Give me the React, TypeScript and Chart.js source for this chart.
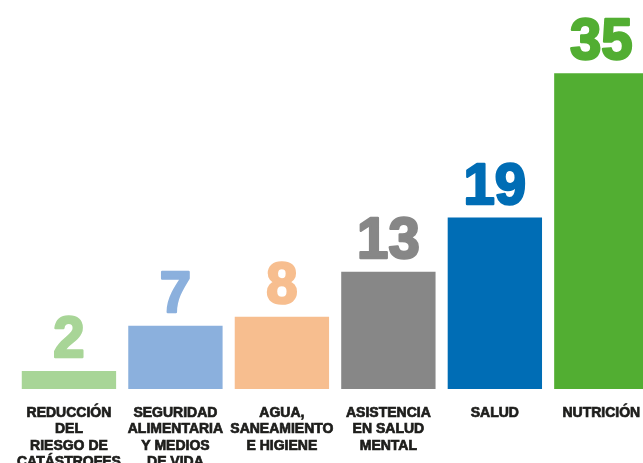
import React, { useEffect, useRef } from "react";
import { Chart, registerables } from "chart.js";

Chart.register(...registerables);

const categories: string[][] = [
  ["REDUCCIÓN", "DEL", "RIESGO DE", "CATÁSTROFES"],
  ["SEGURIDAD", "ALIMENTARIA", "Y MEDIOS", "DE VIDA"],
  ["AGUA,", "SANEAMIENTO", "E HIGIENE"],
  ["ASISTENCIA", "EN SALUD", "MENTAL"],
  ["SALUD"],
  ["NUTRICIÓN"],
];
const values: number[] = [2, 7, 8, 13, 19, 35];
const barColors: string[] = ["#A8D597", "#8BB0DD", "#F7BE8F", "#878787", "#006DB5", "#52AE32"];

const valueLabels = {
  id: "valueLabels",
  afterDatasetsDraw(chart: any) {
    const ctx = chart.ctx;
    const meta = chart.getDatasetMeta(0);
    ctx.save();
    ctx.font = "bold 58px 'Liberation Sans', Arial, sans-serif";
    ctx.textAlign = "center";
    ctx.textBaseline = "alphabetic";
    ctx.lineJoin = "round";
    ctx.lineWidth = 2.5;
    meta.data.forEach((bar: any, i: number) => {
      ctx.fillStyle = barColors[i];
      ctx.strokeStyle = barColors[i];
      ctx.save();
      ctx.translate(bar.x, bar.y - 14);
      ctx.scale(0.97, 1);
      ctx.fillText(String(values[i]), 0, 0);
      ctx.strokeText(String(values[i]), 0, 0);
      ctx.restore();
    });
    ctx.restore();
  },
};

export default function App() {
  const ref = useRef<HTMLCanvasElement | null>(null);
  useEffect(() => {
    if (!ref.current) return;
    const chart = new Chart(ref.current, {
      type: "bar",
      data: {
        labels: categories,
        datasets: [
          {
            data: values,
            backgroundColor: barColors,
            borderWidth: 0,
            categoryPercentage: 1,
            barPercentage: 0.886,
          },
        ],
      },
      options: {
        responsive: false,
        animation: false,
        layout: { padding: { left: 13, right: 0, top: 1, bottom: 0 } },
        plugins: { legend: { display: false }, tooltip: { enabled: false } },
        scales: {
          x: {
            grid: { display: false, drawTicks: false },
            border: { display: false },
            ticks: {
              color: "#1d1d1b",
              textStrokeColor: "#1d1d1b",
              textStrokeWidth: 0.7,
              padding: 16,
              maxRotation: 0,
              autoSkip: false,
              font: { family: "'Liberation Sans', Arial, sans-serif", size: 14, weight: "bold", lineHeight: 1.17 },
            },
            afterFit: (scale: any) => {
              scale.height = 81;
            },
          },
          y: { display: false, min: 0, max: 43 },
        },
      },
      plugins: [valueLabels],
    });
    return () => chart.destroy();
  }, []);
  return (
    <div style={{ position: "fixed", left: 0, top: 0, width: 643, height: 463, overflow: "hidden", background: "#fff" }}>
      <canvas ref={ref} width={656} height={470} style={{ display: "block" }} />
    </div>
  );
}
